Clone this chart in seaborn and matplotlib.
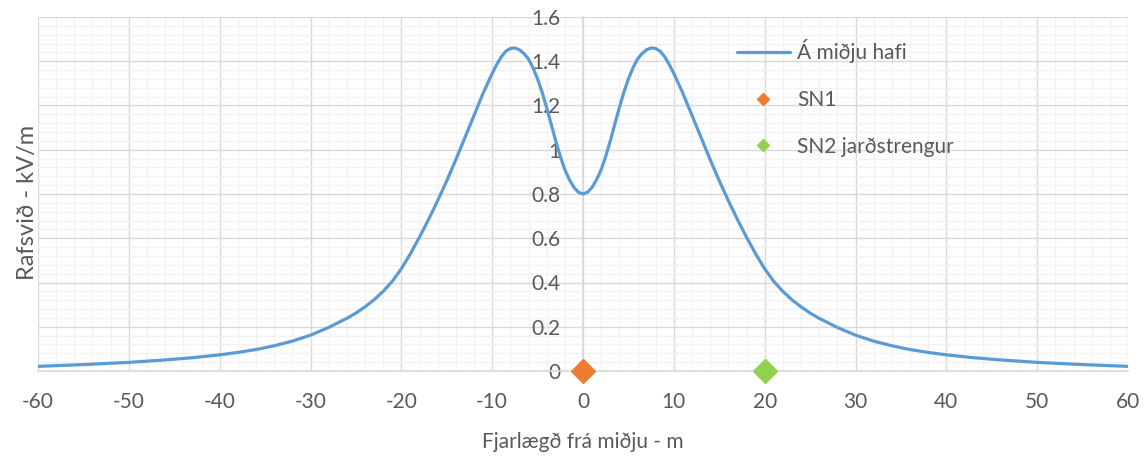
import matplotlib
matplotlib.use('Agg')
import matplotlib.pyplot as plt
import seaborn as sns
import pandas as pd
from matplotlib.ticker import MultipleLocator, FuncFormatter

# Distance from centre (m) and field strength (kV/m)
dist_right = [0, 0.5, 1, 1.5, 2, 2.5, 3, 3.5, 4, 4.5, 5, 5.5, 6, 6.5, 7, 7.5, 8, 8.5, 9,
              9.5, 10, 10.5, 11, 11.5, 12, 12.5, 13, 14, 15, 16, 17, 18, 19, 20,
              21, 22, 23, 24, 25, 26, 28, 30, 32, 34, 36, 38, 40, 43, 46, 50, 55, 60]
field_right = [0.800, 0.808, 0.83, 0.865, 0.91, 0.97, 1.04, 1.115, 1.19, 1.26, 1.32, 1.37,
               1.41, 1.435, 1.452, 1.46, 1.458, 1.445, 1.42, 1.385, 1.345, 1.30, 1.255,
               1.205, 1.155, 1.105, 1.055, 0.955, 0.86, 0.77, 0.685, 0.605, 0.53, 0.462,
               0.405, 0.36, 0.322, 0.29, 0.262, 0.238, 0.197, 0.162, 0.135, 0.114, 0.097,
               0.084, 0.073, 0.06, 0.05, 0.039, 0.029, 0.021]

# the profile is symmetric about the centre line
distance = [-d for d in dist_right[:0:-1]] + dist_right
field = field_right[:0:-1] + field_right

sn1_x, sn1_y = [0], [0]
sn2_x, sn2_y = [20], [0]

line_label = 'Á miðju hafi'
sn1_label = 'SN1'
sn2_label = 'SN2 jarðstrengur'

x_ticks = list(range(-60, 61, 10))

sns.set_theme(style='white')
plt.rcParams['font.family'] = ['Lato', 'DejaVu Sans']
plt.rcParams['axes.unicode_minus'] = False
text_col = '#595959'

df = pd.DataFrame({'distance': distance, 'field': field})

fig = plt.figure(figsize=(11.44, 4.57), dpi=100)
ax = fig.add_axes([38 / 1144, 1 - 371 / 457, 1090 / 1144, 354 / 457])

sns.lineplot(data=df, x='distance', y='field', ax=ax, color='#5B9BD5', linewidth=2.3,
             label=line_label, zorder=3, solid_joinstyle='round', solid_capstyle='round')
ax.plot(sn1_x, sn1_y, linestyle='none', marker='D', markersize=12.5, color='#ED7D31',
        label=sn1_label, clip_on=False, zorder=4)
ax.plot(sn2_x, sn2_y, linestyle='none', marker='D', markersize=12.5, color='#92D050',
        label=sn2_label, clip_on=False, zorder=4)

ax.set_xlim(-60, 60)
ax.set_ylim(0, 1.6)
ax.set_xticks(x_ticks)
ax.yaxis.set_major_locator(MultipleLocator(0.2))
ax.xaxis.set_minor_locator(MultipleLocator(2))
ax.yaxis.set_minor_locator(MultipleLocator(0.04))
ax.yaxis.set_major_formatter(FuncFormatter(lambda v, p: f'{v:g}'))

ax.grid(which='minor', color='#F2F2F2', linewidth=1.0)
ax.grid(which='major', color='#D9D9D9', linewidth=1.0)
ax.set_axisbelow(True)

for s in ['top', 'right']:
    ax.spines[s].set_visible(False)
ax.spines['left'].set_position(('data', 0))
ax.spines['left'].set_color('#D9D9D9')
ax.spines['bottom'].set_color('#D9D9D9')
ax.spines['left'].set_zorder(1)

ax.tick_params(axis='both', which='both', length=0, labelsize=15, labelcolor=text_col)
ax.tick_params(axis='x', pad=15)
ax.tick_params(axis='y', pad=16)

ax.set_xlabel('Fjarlægð frá miðju - m', fontsize=15, color=text_col)
ax.set_ylabel('Rafsvið - kV/m', fontsize=17, color=text_col)
ax.xaxis.set_label_coords(0.5, -0.172)
ax.yaxis.set_label_coords(0.0, 0.475)

ax.legend(loc='upper left', bbox_to_anchor=(0.624, 0.99), frameon=False, fontsize=15,
          labelcolor=text_col, handlelength=2.55, handletextpad=0.35, labelspacing=1.28,
          markerscale=0.45)

fig.savefig('out.png', dpi=100)
